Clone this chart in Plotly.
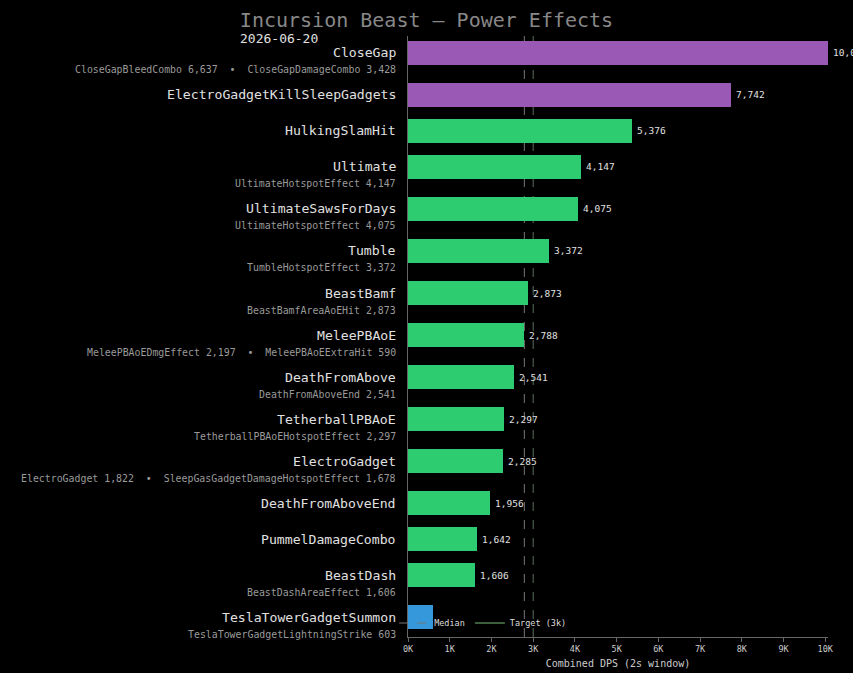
import plotly.graph_objects as go

# ---- data ----
names = ["CloseGap", "ElectroGadgetKillSleepGadgets", "HulkingSlamHit", "Ultimate",
         "UltimateSawsForDays", "Tumble", "BeastBamf", "MeleePBAoE", "DeathFromAbove",
         "TetherballPBAoE", "ElectroGadget", "DeathFromAboveEnd", "PummelDamageCombo",
         "BeastDash", "TeslaTowerGadgetSummon"]
values = [10065, 7742, 5376, 4147, 4075, 3372, 2873, 2788, 2541, 2297, 2285, 1956, 1642, 1606, 603]
subs = ["CloseGapBleedCombo 6,637  \u2022  CloseGapDamageCombo 3,428",
        "",
        "",
        "UltimateHotspotEffect 4,147",
        "UltimateHotspotEffect 4,075",
        "TumbleHotspotEffect 3,372",
        "BeastBamfAreaAoEHit 2,873",
        "MeleePBAoEDmgEffect 2,197  \u2022  MeleePBAoEExtraHit 590",
        "DeathFromAboveEnd 2,541",
        "TetherballPBAoEHotspotEffect 2,297",
        "ElectroGadget 1,822  \u2022  SleepGasGadgetDamageHotspotEffect 1,678",
        "",
        "",
        "BeastDashAreaEffect 1,606",
        "TeslaTowerGadgetLightningStrike 603"]
median_value = 2788
target_value = 3000
title = "Incursion Beast \u2014 Power Effects"
date_label = "2026-06-20"
x_tick_vals = [0, 1000, 2000, 3000, 4000, 5000, 6000, 7000, 8000, 9000, 10000]
x_tick_text = ["0K", "1K", "2K", "3K", "4K", "5K", "6K", "7K", "8K", "9K", "10K"]

FONT = "DejaVu Sans Mono"

# row positions: rows with a sub-line take a little more room
ypos = []
y = 0.0
for s in subs:
    ypos.append(y)
    y += 7 if s else 6

def color_for(v):
    if v >= 6000:
        return "#9b59b6"
    if v >= 1000:
        return "#2ecc71"
    return "#3498db"

colors = [color_for(v) for v in values]

fig = go.Figure()
fig.add_trace(go.Bar(
    x=values, y=ypos, orientation="h", marker=dict(color=colors, line=dict(width=0)),
    width=3.85, showlegend=False, hoverinfo="skip"))

# legend entries
fig.add_trace(go.Scatter(x=[None], y=[None], mode="lines", name="Median",
                         line=dict(color="#777777", width=1, dash="dash")))
fig.add_trace(go.Scatter(x=[None], y=[None], mode="lines", name="Target (3k)",
                         line=dict(color="#3d5e3d", width=2)))

# reference lines (behind bars)
fig.add_shape(type="line", xref="x", yref="paper", x0=median_value, x1=median_value,
              y0=0, y1=1, layer="below", line=dict(color="#777777", width=1, dash="dash"))
fig.add_shape(type="line", xref="x", yref="paper", x0=target_value, x1=target_value,
              y0=0, y1=1, layer="below", line=dict(color="#5a6e5a", width=1, dash="dash"))

annotations = []
for n, v, s, yp in zip(names, values, subs, ypos):
    annotations.append(dict(x=0, xref="paper", y=yp, yref="y", text=n, showarrow=False,
                            xanchor="right", yanchor="middle", xshift=-10,
                            font=dict(family=FONT, size=13.15, color="#e0e0e0")))
    if s:
        annotations.append(dict(x=0, xref="paper", y=yp, yref="y", text=s, showarrow=False,
                                xanchor="right", yanchor="middle", xshift=-10, yshift=-17,
                                font=dict(family=FONT, size=9.9, color="#9a9a9a")))
    if v >= 1000:
        annotations.append(dict(x=v, xref="x", y=yp, yref="y", text=f"{v:,}", showarrow=False,
                                xanchor="left", yanchor="middle", xshift=3,
                                font=dict(family=FONT, size=9.5, color="#e0e0e0")))
annotations.append(dict(x=-0.405, xref="paper", y=1.0, yref="paper", text=date_label,
                        showarrow=False, xanchor="left", yanchor="middle", yshift=-2,
                        font=dict(family=FONT, size=13, color="#e0e0e0")))

fig.update_layout(
    width=853, height=673,
    margin=dict(l=408, r=25, t=36, b=36, autoexpand=False),
    paper_bgcolor="#000000", plot_bgcolor="#000000",
    font=dict(family=FONT, color="#cccccc"),
    title=dict(text=title, x=0.5, xanchor="center", xref="container", y=1 - 20 / 673,
               yanchor="middle", font=dict(family=FONT, size=20, color="#888888")),
    xaxis=dict(range=[0, max(values)], tickvals=x_tick_vals, ticktext=x_tick_text,
               showgrid=False, zeroline=False, showline=True, linecolor="#666666",
               ticks="outside", ticklen=4, tickcolor="#666666", automargin=False,
               tickfont=dict(family=FONT, size=8.5, color="#cccccc"),
               title=dict(text="Combined DPS (2s window)", standoff=6,
                          font=dict(family=FONT, size=10, color="#cccccc"))),
    yaxis=dict(range=[97.33, -2.83], showticklabels=False, showgrid=False, zeroline=False,
               showline=True, linecolor="#666666", ticks="", automargin=False),
    legend=dict(orientation="h", x=-0.033, xanchor="left", y=0.0233, yanchor="middle",
                bgcolor="rgba(0,0,0,0)", font=dict(family=FONT, size=8.5, color="#dddddd")),
    annotations=annotations,
    bargap=0,
)

fig.write_html("out.html")
